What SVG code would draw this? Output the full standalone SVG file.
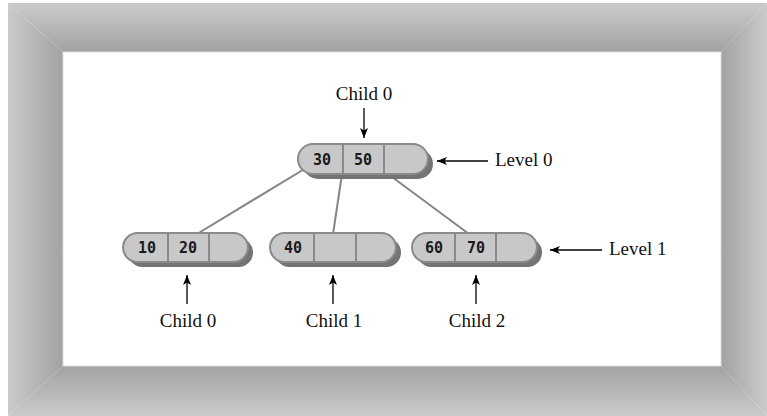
<svg xmlns="http://www.w3.org/2000/svg" width="767" height="416" viewBox="0 0 767 416">
<style>
.lbl{font-family:"Liberation Serif","Times New Roman",serif;font-size:19px;fill:#111}
.num{font-family:"DejaVu Sans Mono","Liberation Mono",monospace;font-size:15px;font-weight:bold;fill:#1a1a1a;text-anchor:middle}
.shadow{fill:#747474}
.pill{fill:#c8c8c8;stroke:#8a8a8a;stroke-width:2}
.div{stroke:#8a8a8a;stroke-width:2}
.conn{stroke:#858585;stroke-width:2;fill:none}
.arr{stroke:#000;stroke-width:1.3;fill:none;marker-end:url(#ah)}
</style>
<defs>
<marker id="ah" viewBox="0 0 10 8" refX="10" refY="4" markerWidth="10" markerHeight="8" markerUnits="userSpaceOnUse" orient="auto">
<path d="M0,0 L10,4 L0,8 L2.5,4 Z" fill="#000"/>
</marker>
<linearGradient id="gT" x1="0" y1="3" x2="0" y2="52" gradientUnits="userSpaceOnUse"><stop offset="0" stop-color="#cbcbcb"/><stop offset="1" stop-color="#a2a2a2"/></linearGradient>
<linearGradient id="gB" x1="0" y1="416" x2="0" y2="366" gradientUnits="userSpaceOnUse"><stop offset="0" stop-color="#cbcbcb"/><stop offset="1" stop-color="#a2a2a2"/></linearGradient>
<linearGradient id="gL" x1="8" y1="0" x2="63" y2="0" gradientUnits="userSpaceOnUse"><stop offset="0" stop-color="#cbcbcb"/><stop offset="1" stop-color="#a2a2a2"/></linearGradient>
<linearGradient id="gR" x1="767" y1="0" x2="721" y2="0" gradientUnits="userSpaceOnUse"><stop offset="0" stop-color="#cbcbcb"/><stop offset="1" stop-color="#a2a2a2"/></linearGradient>
</defs>
<rect width="767" height="416" fill="#fff"/>
<g id="frame">
<polygon points="8,3 767,3 721,52 63,52" fill="url(#gT)"/>
<polygon points="8,416 767,416 721,366 63,366" fill="url(#gB)"/>
<polygon points="8,3 63,52 63,366 8,416" fill="url(#gL)"/>
<polygon points="767,3 767,416 721,366 721,52" fill="url(#gR)"/>
<rect x="63" y="52" width="658" height="314" fill="#fff" stroke="#dcdcdc" stroke-width="1"/>
</g>
<g id="connectors">
<line class="conn" x1="306" y1="168" x2="197" y2="234"/>
<line class="conn" x1="342" y1="174" x2="333" y2="234"/>
<line class="conn" x1="388" y1="174" x2="469" y2="234"/>
</g>
<g id="node-root">
<rect class="shadow" x="303" y="149" width="130" height="30" rx="15"/>
<rect class="pill" x="298" y="144" width="130" height="30" rx="15"/>
<line class="div" x1="343" y1="145" x2="343" y2="173"/>
<line class="div" x1="384" y1="145" x2="384" y2="173"/>
<text class="num" x="322" y="165">30</text>
<text class="num" x="363" y="165">50</text>
</g>
<g id="node-child0">
<rect class="shadow" x="128" y="238" width="125" height="29" rx="14.5"/>
<rect class="pill" x="123" y="233" width="125" height="29" rx="14.5"/>
<line class="div" x1="168" y1="234" x2="168" y2="261"/>
<line class="div" x1="209" y1="234" x2="209" y2="261"/>
<text class="num" x="147" y="253">10</text>
<text class="num" x="188" y="253">20</text>
</g>
<g id="node-child1">
<rect class="shadow" x="275" y="238" width="126" height="29" rx="14.5"/>
<rect class="pill" x="270" y="233" width="126" height="29" rx="14.5"/>
<line class="div" x1="314" y1="234" x2="314" y2="261"/>
<line class="div" x1="356" y1="234" x2="356" y2="261"/>
<text class="num" x="293" y="253">40</text>
</g>
<g id="node-child2">
<rect class="shadow" x="417" y="238" width="125" height="29" rx="14.5"/>
<rect class="pill" x="412" y="233" width="125" height="29" rx="14.5"/>
<line class="div" x1="455" y1="234" x2="455" y2="261"/>
<line class="div" x1="496" y1="234" x2="496" y2="261"/>
<text class="num" x="434" y="253">60</text>
<text class="num" x="476" y="253">70</text>
</g>
<g id="labels">
<text class="lbl" x="364" y="100" text-anchor="middle">Child 0</text>
<line class="arr" x1="364" y1="108" x2="364" y2="138"/>
<text class="lbl" x="495" y="166">Level 0</text>
<line class="arr" x1="488" y1="161" x2="437" y2="161"/>
<text class="lbl" x="609" y="255">Level 1</text>
<line class="arr" x1="602" y1="250" x2="550" y2="250"/>
<line class="arr" x1="187" y1="304" x2="187" y2="275"/>
<text class="lbl" x="188" y="327" text-anchor="middle">Child 0</text>
<line class="arr" x1="333" y1="304" x2="333" y2="275"/>
<text class="lbl" x="334" y="327" text-anchor="middle">Child 1</text>
<line class="arr" x1="476" y1="304" x2="476" y2="275"/>
<text class="lbl" x="477" y="327" text-anchor="middle">Child 2</text>
</g>
</svg>
